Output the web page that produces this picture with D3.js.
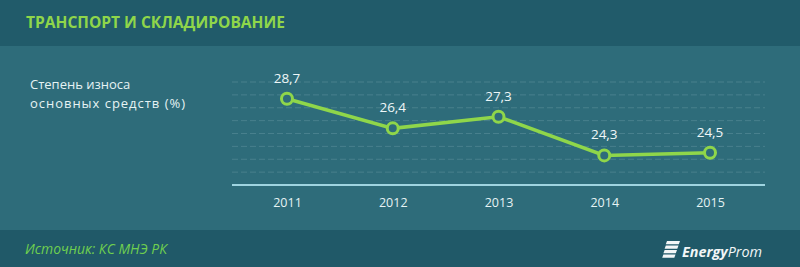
<!DOCTYPE html>
<html>
<head>
<meta charset="utf-8">
<script src="https://cdn.jsdelivr.net/npm/d3@7"></script>
<style>
  body { margin: 0; background: #2d6b79; }
  svg { display: block; }
</style>
</head>
<body>
<svg width="800" height="267"></svg>
<script>
var years = ["2011", "2012", "2013", "2014", "2015"];
var wear = [28.7, 26.4, 27.3, 24.3, 24.5];
var gridValues = [23, 24, 25, 26, 27, 28, 29, 30];

var svg = d3.select("svg");
var green = "#8fd64a";

// background bands
svg.append("rect").attr("width", 800).attr("height", 267).attr("fill", "#2e6c7a");
svg.append("rect").attr("width", 800).attr("height", 46).attr("fill", "#215b6a");
svg.append("rect").attr("y", 230).attr("width", 800).attr("height", 37).attr("fill", "#205968");

svg.append("text")
  .attr("x", 26).attr("y", 28)
  .attr("fill", green)
  .attr("textLength", 259)
  .attr("lengthAdjust", "spacingAndGlyphs")
  .style("font-family", "'Open Sans', sans-serif")
  .style("font-weight", "bold")
  .style("font-size", "16px")
  .text("ТРАНСПОРТ И СКЛАДИРОВАНИЕ");

var ylab = svg.append("text")
  .attr("fill", "#e6f3f4")
  .style("font-family", "'Open Sans', sans-serif")
  .style("font-size", "13px");
ylab.append("tspan").attr("x", 30).attr("y", 89).text("Степень износа");
ylab.append("tspan").attr("x", 30).attr("y", 108)
  .attr("textLength", 155)
  .text("основных  средств (%)");

var xScale = d3.scalePoint()
  .domain(years)
  .range([232, 765])
  .padding(0.52);

var yScale = d3.scaleLinear()
  .domain([22, 30])
  .range([185, 82]);

// dashed gridlines
svg.selectAll(".grid")
  .data(gridValues)
  .enter()
  .append("line")
  .attr("x1", 232).attr("x2", 765)
  .attr("y1", function(d){ return yScale(d); })
  .attr("y2", function(d){ return yScale(d); })
  .attr("stroke", "#5a8e9a")
  .attr("stroke-width", 1)
  .attr("stroke-dasharray", "6,3")
  .attr("opacity", 0.6);

// baseline
svg.append("line")
  .attr("x1", 232).attr("x2", 765)
  .attr("y1", yScale(22)).attr("y2", yScale(22))
  .attr("stroke", "#9fd4e0")
  .attr("stroke-width", 2);

var xAxis = d3.axisBottom(xScale).tickSize(0).tickPadding(13);
var gx = svg.append("g")
  .attr("transform", "translate(0," + yScale(22) + ")")
  .call(xAxis);
gx.select(".domain").remove();
gx.selectAll("text")
  .attr("fill", "#e6f3f4")
  .style("font-family", "'Open Sans', sans-serif")
  .style("font-size", "12.5px");

var pts = years.map(function(y, i){ return {year: y, value: wear[i]}; });

var line = d3.line()
  .x(function(d){ return xScale(d.year); })
  .y(function(d){ return yScale(d.value); });

svg.append("path")
  .datum(pts)
  .attr("d", line)
  .attr("fill", "none")
  .attr("stroke", green)
  .attr("stroke-width", 3.5);

svg.selectAll(".dot")
  .data(pts)
  .enter()
  .append("circle")
  .attr("cx", function(d){ return xScale(d.year); })
  .attr("cy", function(d){ return yScale(d.value); })
  .attr("r", 5.5)
  .attr("fill", "#2e6c7a")
  .attr("stroke", green)
  .attr("stroke-width", 3);

svg.selectAll(".lbl")
  .data(pts)
  .enter()
  .append("text")
  .attr("x", function(d){ return xScale(d.year); })
  .attr("y", function(d){ return yScale(d.value) - 16; })
  .attr("text-anchor", "middle")
  .attr("fill", "#eef7f8")
  .style("font-family", "'Open Sans', sans-serif")
  .style("font-size", "13.5px")
  .text(function(d){ return String(d.value).replace(".", ","); });

// footer
svg.append("text")
  .attr("x", 25).attr("y", 254)
  .attr("fill", "#6fcf4f")
  .attr("textLength", 142)
  .attr("lengthAdjust", "spacingAndGlyphs")
  .style("font-family", "'Open Sans', sans-serif")
  .style("font-style", "italic")
  .style("font-size", "14px")
  .text("Источник: КС МНЭ РК");

var logo = svg.append("g").attr("transform", "translate(662,241)");
[0, 4.5, 9, 13.5].forEach(function(o, i){
  logo.append("path")
    .attr("d", "M" + (5 - i * 1.2) + "," + o + " h" + (13 - i * 0.3) + " l-1.2,3.2 h-" + (13 - i * 0.3) + " z")
    .attr("fill", "#f2f6f7");
});
var brand = logo.append("text")
  .attr("x", 20).attr("y", 16)
  .attr("fill", "#f2f6f7")
  .attr("textLength", 80)
  .attr("lengthAdjust", "spacingAndGlyphs")
  .style("font-family", "'Open Sans', sans-serif")
  .style("font-style", "italic")
  .style("font-size", "14px");
brand.append("tspan").style("font-weight", "bold").text("Energy");
brand.append("tspan").text("Prom");
</script>
</body>
</html>
